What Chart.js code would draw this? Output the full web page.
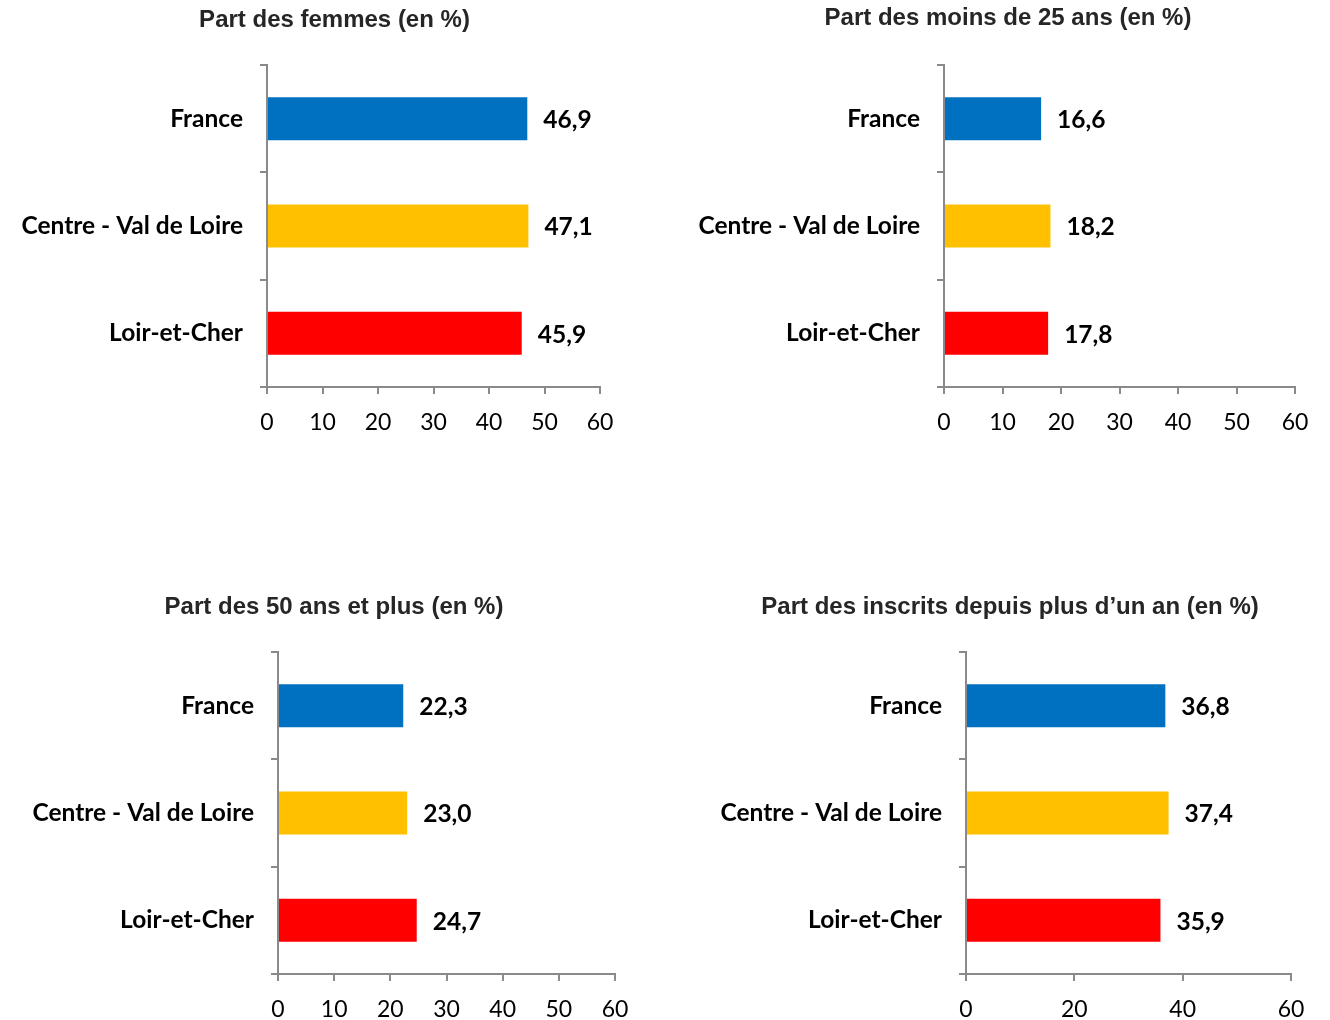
<!DOCTYPE html>
<html lang="fr">
<head>
<meta charset="utf-8">
<title>Demandeurs d'emploi – Loir-et-Cher</title>
<script src="https://cdn.jsdelivr.net/npm/chart.js@4.4.1/dist/chart.umd.min.js"></script>
<style>
  html, body { margin: 0; padding: 0; background: #ffffff; }
  #page { position: relative; width: 1330px; height: 1020px; overflow: hidden; background: #ffffff; }
  #page canvas { position: absolute; }
</style>
</head>
<body>
<div id="page">
  <canvas id="cFemmes"></canvas>
  <canvas id="cMoins25"></canvas>
  <canvas id="cPlus50"></canvas>
  <canvas id="cLongue"></canvas>
</div>
<script>
// Territoires comparés (même ordre dans chaque graphique)
const categories = ['France', 'Centre - Val de Loire', 'Loir-et-Cher'];
const barColors = ['#0070C0', '#FFC000', '#FF0000'];

// Indicateurs (en %)
const femmes = [46.9, 47.1, 45.9];
const moins25 = [16.6, 18.2, 17.8];
const plus50 = [22.3, 23.0, 24.7];
const inscritsPlusUnAn = [36.8, 37.4, 35.9];

// Titres des graphiques
const titleFemmes = 'Part des femmes (en %)';
const titleMoins25 = 'Part des moins de 25 ans (en %)';
const titlePlus50 = 'Part des 50 ans et plus (en %)';
const titleLongue = 'Part des inscrits depuis plus d\u2019un an (en %)';

// Échelle horizontale
const axisMin = 0;
const axisMax = 60;
const stepFin = 10;
const stepLarge = 20;

const AXIS_GREY = '#8a8a8a';
const LABEL_FONT = 'Lato, "Open Sans", sans-serif';
const TITLE_FONT = '"Liberation Sans", Arial, sans-serif';

function formatFr(v) {
  return v.toFixed(1).replace('.', ',');
}

// Étiquettes de valeur à droite de chaque barre
const valueLabels = {
  id: 'valueLabels',
  afterDatasetsDraw(chart, args, opts) {
    const ctx = chart.ctx;
    const meta = chart.getDatasetMeta(0);
    const values = chart.data.datasets[0].data;
    ctx.save();
    ctx.font = 'bold 24.5px ' + LABEL_FONT;
    ctx.fillStyle = '#000000';
    ctx.textAlign = 'left';
    ctx.textBaseline = 'middle';
    meta.data.forEach((bar, i) => {
      ctx.fillText(formatFr(values[i]), bar.x + opts.offset, bar.y + 1.5);
    });
    ctx.restore();
  }
};

// Les noms de territoires débordent dans la marge gauche : on élargit
// la zone de dessin des étiquettes de l'axe des catégories jusqu'au bord du canvas.
const wideCategoryLabels = {
  id: 'wideCategoryLabels',
  afterLayout(chart) {
    chart.scales.y.left = 0;
  }
};

function buildChart(id, box, title, values, step) {
  const canvas = document.getElementById(id);
  canvas.width = box.width;
  canvas.height = box.height;
  canvas.style.left = box.left + 'px';
  canvas.style.top = box.top + 'px';
  canvas.style.width = box.width + 'px';
  canvas.style.height = box.height + 'px';

  return new Chart(canvas, {
    type: 'bar',
    data: {
      labels: categories,
      datasets: [{
        data: values,
        backgroundColor: barColors,
        borderWidth: 0,
        barPercentage: 0.4,
        categoryPercentage: 1.0
      }]
    },
    plugins: [valueLabels, wideCategoryLabels],
    options: {
      indexAxis: 'y',
      responsive: false,
      animation: false,
      devicePixelRatio: 1,
      layout: { padding: { left: box.pad, right: box.pad, top: 0, bottom: 0 } },
      plugins: {
        legend: { display: false },
        tooltip: { enabled: false },
        title: {
          display: true,
          text: title,
          color: '#262626',
          font: { family: TITLE_FONT, size: 24, weight: 'bold', lineHeight: 1.2 },
          padding: { top: box.titleTop, bottom: 65 - box.titleTop - 28.8 }
        },
        valueLabels: { offset: 16 }
      },
      scales: {
        x: {
          type: 'linear',
          position: 'bottom',
          min: axisMin,
          max: axisMax,
          ticks: {
            stepSize: step,
            padding: 15,
            color: '#000000',
            font: { family: LABEL_FONT, size: 23 },
            callback: (v) => String(v)
          },
          grid: { drawOnChartArea: false, drawTicks: true, tickLength: 7, color: AXIS_GREY, lineWidth: 2 },
          border: { display: true, color: AXIS_GREY, width: 2 },
          afterFit(scale) { scale.height = box.height - 387; }
        },
        y: {
          type: 'category',
          position: 'left',
          offset: true,
          ticks: {
            padding: 17,
            color: '#000000',
            font: { family: LABEL_FONT, size: 24.5, weight: 'bold' }
          },
          grid: { offset: true, drawOnChartArea: false, drawTicks: true, tickLength: 7, color: AXIS_GREY, lineWidth: 2 },
          border: { display: true, color: AXIS_GREY, width: 2 },
          afterFit(scale) { scale.width = box.axisLeft - box.pad; }
        }
      }
    }
  });
}

function drawAll() {
  buildChart('cFemmes',
    { left: 0, top: 0, width: 669, height: 450, axisLeft: 267, pad: 69, titleTop: 6 },
    titleFemmes, femmes, stepFin);
  buildChart('cMoins25',
    { left: 686, top: 0, width: 644, height: 450, axisLeft: 258, pad: 35, titleTop: 4 },
    titleMoins25, moins25, stepFin);
  buildChart('cPlus50',
    { left: 0, top: 587, width: 668, height: 433, axisLeft: 278, pad: 53, titleTop: 6 },
    titlePlus50, plus50, stepFin);
  buildChart('cLongue',
    { left: 690, top: 587, width: 640, height: 433, axisLeft: 276, pad: 39, titleTop: 6 },
    titleLongue, inscritsPlusUnAn, stepLarge);
}

Promise.all([
  document.fonts.load('bold 24.5px Lato'),
  document.fonts.load('23px Lato'),
  document.fonts.load('bold 24px "Liberation Sans"')
]).then(drawAll, drawAll);
</script>
</body>
</html>
